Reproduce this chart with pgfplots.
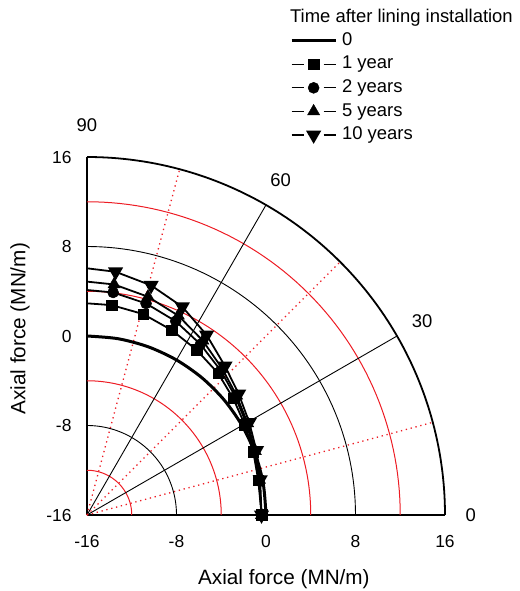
\documentclass[border=0pt]{standalone}
\usepackage{fontspec}
\setmainfont{Liberation Sans}
\usepackage{pgfplots}
\usepackage{pgfplotstable}
\pgfplotsset{compat=1.18}
\definecolor{gridred}{RGB}{237,28,36}

% angle (deg) and axial force (MN/m) for each time after installation
\pgfplotstableread{
a     v1    v2    v5    v10
90    2.92  4.11  4.86  6.05
83.3  2.89  4.03  4.75  5.89
74.4  2.65  3.63  4.26  5.31
65.4  2.18  3.05  3.60  4.47
56.4  1.71  2.32  2.71  3.32
47.2  1.26  1.60  1.81  2.15
38.6  0.72  0.96  1.11  1.35
29.7  0.25  0.42  0.53  0.70
20.8  -0.10 0.01  0.09  0.20
11.5  -0.38 -0.31 -0.27 -0.20
0     -0.39 -0.39 -0.40 -0.40
}\data
\pgfplotstableread{
a   v0
90  0
80  0
70  0
60  0
50  0
40  0
30  0
20  0
10  0
0   0
}\zero

\pgfplotsset{
  mlegend/.style={legend image code/.code={
    \draw[mark=none,line width=1.2bp] (0bp,0bp) -- (12bp,0bp);
    \draw[mark=none,line width=1.2bp] (32bp,0bp) -- (44bp,0bp);
    \draw[mark indices={1}] plot coordinates {(22bp,0bp)};
  }},
  ser/.style={black, line width=1.8bp, mark indices={2,3,4,5,6,7,8,9,10,11},
    mark options={solid, fill=black, draw=black, line width=0.5bp}},
}

\begin{document}
\begin{tikzpicture}
\path[use as bounding box] (-87bp,-76bp) rectangle (433bp,515bp);
\begin{axis}[
  at={(0,0)}, anchor=south west,
  width=358bp, height=358bp, scale only axis,
  xmin=-16, xmax=16, ymin=-16, ymax=16,
  axis x line=bottom, axis y line=left,
  axis line style={-, line width=1.8bp},
  xtick={-16,-8,0,8,16}, ytick={-16,-8,0,8,16},
  xticklabels={-16,-8,0,8,16}, yticklabels={-16,-8,0,8,16},
  major tick length=0pt,
  tick label style={font=\fontsize{17.5}{20}\selectfont},
  xticklabel style={yshift=-17bp},
  yticklabel style={xshift=-12bp},
  xlabel={Axial force (MN/m)}, ylabel={Axial force (MN/m)},
  label style={font=\fontsize{20.8}{24}\selectfont},
  xlabel style={at={(axis description cs:0.55,-0.179)}, anchor=center},
  ylabel style={at={(axis description cs:-0.187,0.52)}, anchor=center},
  clip=false,
  legend style={at={(axis cs:2.14,27.2)}, anchor=north west, draw=none, fill=none,
    inner sep=0pt, font=\fontsize{18.5}{21}\selectfont, row sep=6.1bp, column sep=5bp,
    nodes={inner sep=0pt, text height=13.5bp, text depth=4bp}},
  legend cell align=left,
]
% grid circles
\addplot[forget plot, gridred, line width=1bp, domain=0:90, samples=61] ({-16+4*cos(x)},{-16+4*sin(x)});
\addplot[forget plot, black, line width=0.9bp, domain=0:90, samples=61] ({-16+8*cos(x)},{-16+8*sin(x)});
\addplot[forget plot, gridred, line width=1bp, domain=0:90, samples=61] ({-16+12*cos(x)},{-16+12*sin(x)});
\addplot[forget plot, black, line width=0.9bp, domain=0:90, samples=61] ({-16+16*cos(x)},{-16+16*sin(x)});
\addplot[forget plot, gridred, line width=1bp, domain=0:90, samples=61] ({-16+20*cos(x)},{-16+20*sin(x)});
\addplot[forget plot, black, line width=0.9bp, domain=0:90, samples=61] ({-16+24*cos(x)},{-16+24*sin(x)});
\addplot[forget plot, gridred, line width=1bp, domain=0:90, samples=61] ({-16+28*cos(x)},{-16+28*sin(x)});
\addplot[forget plot, black, line width=1.8bp, domain=0:90, samples=91] ({-16+32*cos(x)},{-16+32*sin(x)});
% radial lines
\draw[black, line width=0.9bp] (axis cs:-16,-16) -- (axis cs:{-16+32*cos(30)},{-16+32*sin(30)});
\draw[black, line width=0.9bp] (axis cs:-16,-16) -- (axis cs:{-16+32*cos(60)},{-16+32*sin(60)});
\foreach \ang in {15,45,75}{
  \edef\tmp{\noexpand\draw[gridred, line width=1.3bp, dash pattern=on 1.3bp off 3.7bp] (axis cs:-16,-16) -- (axis cs:{-16+32*cos(\ang)},{-16+32*sin(\ang)});}
  \tmp
}
% angle labels
\begin{scope}[every node/.style={font=\fontsize{18.5}{21}\selectfont, inner sep=0pt}]
\node at (axis cs:{-16+34.3},{-16}) {0};
\node at (axis cs:{-16+34.6*cos(30)},{-16+34.6*sin(30)}) {30};
\node at (axis cs:{-16+34.6*cos(60)},{-16+34.6*sin(60)}) {60};
\node at (axis cs:{-16},{-16+34.85}) {90};
\end{scope}
\node[anchor=west, font=\fontsize{18.5}{21}\selectfont, inner sep=0pt] at (axis cs:2.14,28.42) {Time after lining installation};

% data
\addplot[black, line width=3bp, smooth, no markers,
  legend image code/.code={\draw[line width=3bp] (0bp,0bp) -- (44bp,0bp);}]
  table[x expr={-16+(\thisrow{v0}+16)*cos(\thisrow{a})}, y expr={-16+(\thisrow{v0}+16)*sin(\thisrow{a})}] {\zero};
\addlegendentry{0}
\addplot[ser, mark=square*, mark size=5.3bp, mlegend]
  table[x expr={-16+(\thisrow{v1}+16)*cos(\thisrow{a})}, y expr={-16+(\thisrow{v1}+16)*sin(\thisrow{a})}] {\data};
\addlegendentry{1 year}
\addplot[ser, mark=*, mark size=5.5bp, mlegend]
  table[x expr={-16+(\thisrow{v2}+16)*cos(\thisrow{a})}, y expr={-16+(\thisrow{v2}+16)*sin(\thisrow{a})}] {\data};
\addlegendentry{2 years}
\addplot[ser, mark=triangle*, mark size=7bp, mlegend]
  table[x expr={-16+(\thisrow{v5}+16)*cos(\thisrow{a})}, y expr={-16+(\thisrow{v5}+16)*sin(\thisrow{a})}] {\data};
\addlegendentry{5 years}
\addplot[ser, mark=triangle*, mark size=7bp, mark options={rotate=180}, mlegend]
  table[x expr={-16+(\thisrow{v10}+16)*cos(\thisrow{a})}, y expr={-16+(\thisrow{v10}+16)*sin(\thisrow{a})}] {\data};
\addlegendentry{10 years}
\end{axis}
\end{tikzpicture}
\end{document}
